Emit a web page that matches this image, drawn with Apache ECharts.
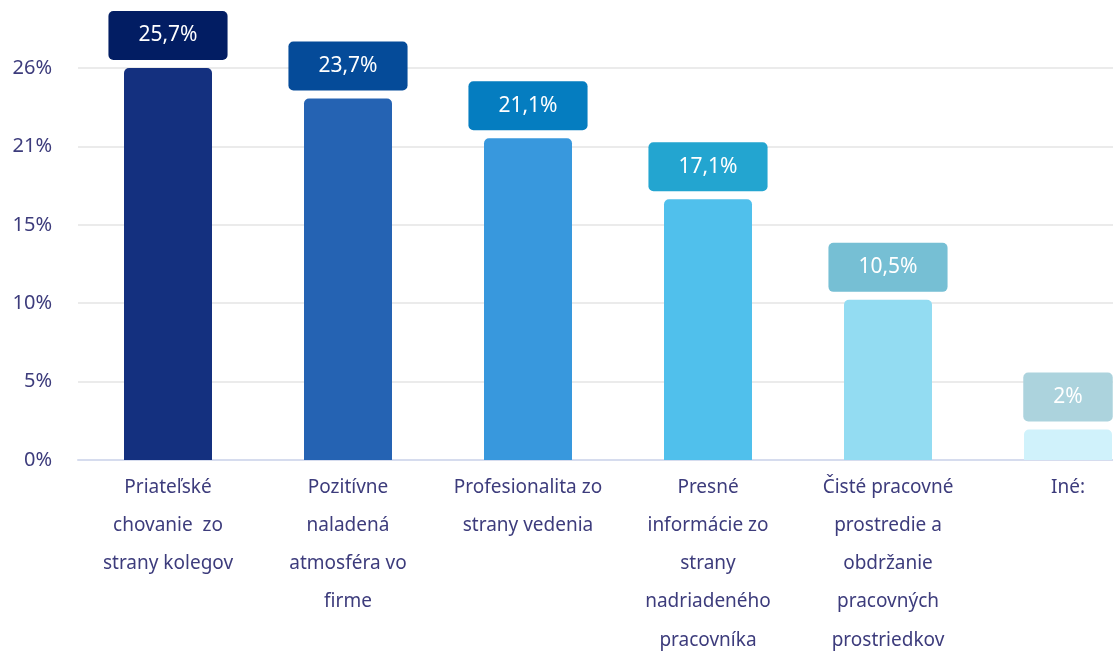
<!DOCTYPE html>
<html>
<head>
<meta charset="utf-8">
<script src="https://cdn.jsdelivr.net/npm/echarts@6/dist/echarts.min.js"></script>
<style>
  html, body { margin: 0; padding: 0; background: #fff; }
  #chart { width: 1113px; height: 651px; }
</style>
</head>
<body>
<div id="chart"></div>
<script>
// kategórie (osi x)
const categories = [
  'Priateľské\nchovanie  zo\nstrany kolegov',
  'Pozitívne\nnaladená\natmosféra vo\nfirme',
  'Profesionalita zo\nstrany vedenia',
  'Presné\ninformácie zo\nstrany\nnadriadeného\npracovníka',
  'Čisté pracovné\nprostredie a\nobdržanie\npracovných\nprostriedkov',
  'Iné:'
]
// hodnoty v %
const values = [25.7, 23.7, 21.1, 17.1, 10.5, 2]
// farby stĺpcov a štítkov
const barColors = ['#14307f', '#2563b3', '#3898dd', '#50c0ec', '#93dcf2', '#d0f2fb']
const labelColors = ['#021d63', '#054b99', '#057dc0', '#23a5d0', '#76bfd4', '#acd3dd']

const textColor = '#3d3c7c'
const font = '"Noto Sans", sans-serif'

let myChart = echarts.init(document.getElementById('chart'))

let data = values.map((v, i) => ({
  value: v,
  itemStyle: { color: barColors[i], borderRadius: [5, 5, 0, 0] },
  label: { backgroundColor: labelColors[i] },
}))

let option = {
  animation: false,
  grid: {
    left: 78,
    top: 68,
    width: 1080,
    height: 392,
    containLabel: false,
    outerBoundsMode: 'none',
  },
  xAxis: {
    type: 'category',
    data: categories,
    axisTick: { show: false },
    axisLine: { lineStyle: { color: '#d6dcee', width: 2 } },
    axisLabel: {
      interval: 0,
      margin: 8,
      color: textColor,
      fontSize: 19,
      fontFamily: font,
      lineHeight: 38.3,
      verticalAlign: 'top',
    },
  },
  yAxis: {
    type: 'value',
    min: 0,
    max: 25.7,
    interval: 5.14,
    axisLine: { show: false },
    axisTick: { show: false },
    splitLine: { lineStyle: { color: '#ebebeb', width: 2 } },
    axisLabel: {
      margin: 26,
      color: textColor,
      fontSize: 20,
      fontFamily: font,
      formatter: (v) => Math.round(v) + '%',
    },
  },
  series: [
    {
      type: 'bar',
      data: data,
      barWidth: 88,
      label: {
        show: true,
        position: 'top',
        distance: 8,
        height: 49,
        lineHeight: 49,
        padding: [0, 30],
        align: 'center',
        borderRadius: 5,
        color: '#ffffff',
        fontSize: 21,
        fontFamily: font,
        formatter: (p) => String(p.value).replace('.', ',') + '%',
      },
    },
  ],
}

myChart.setOption(option)
</script>
</body>
</html>
